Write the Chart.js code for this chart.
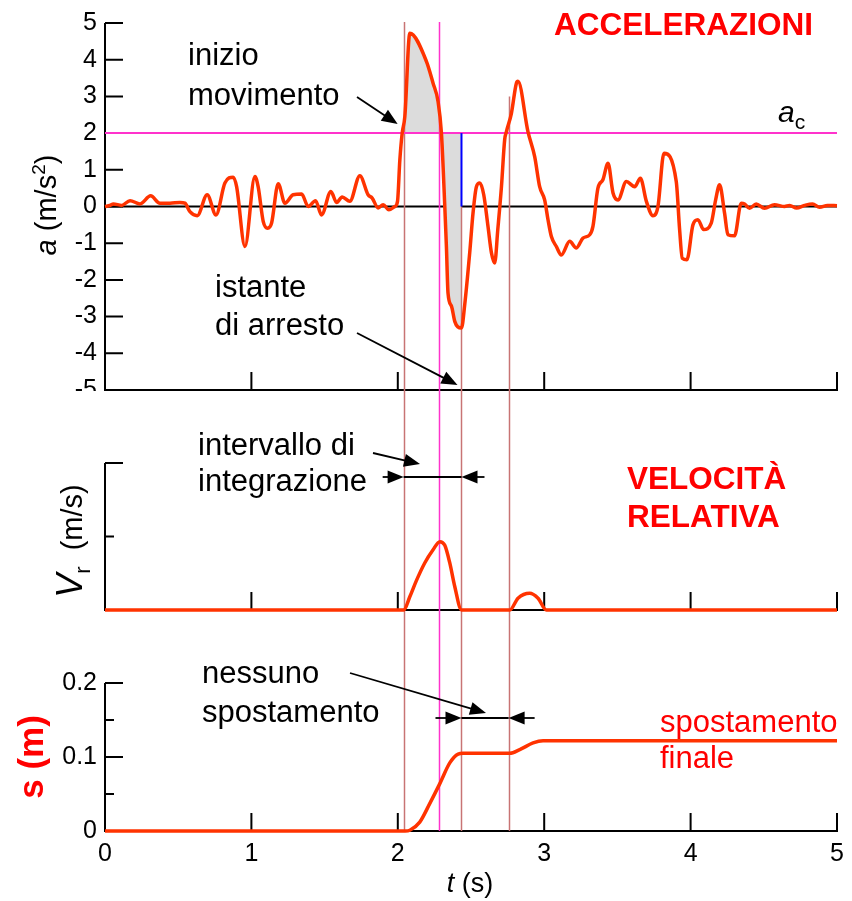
<!DOCTYPE html>
<html><head><meta charset="utf-8">
<script src="https://cdn.jsdelivr.net/npm/chart.js@4.4.1/dist/chart.umd.min.js"></script>
<style>
html,body{margin:0;padding:0;background:#fff;}
#wrap{position:relative;width:852px;height:901px;overflow:hidden;background:#fff;}
canvas{position:absolute;left:0;}
</style></head><body>
<div id="wrap">
<canvas id="cA" width="852" height="391" style="top:0px"></canvas>
<canvas id="cB" width="852" height="249" style="top:391px"></canvas>
<canvas id="cC" width="852" height="261" style="top:640px"></canvas>
</div>
<script>
// ---------- DATA ----------
const accTime = [0.000,0.034,0.057,0.114,0.171,0.239,0.312,0.375,0.444,0.512,0.546,0.580,0.630,0.698,0.758,0.819,0.876,0.899,0.956,1.024,1.046,1.081,1.111,1.138,1.183,1.229,1.285,1.343,1.388,1.438,1.479,1.543,1.582,1.620,1.672,1.741,1.797,1.825,1.866,1.900,1.939,1.980,1.998,2.014,2.030,2.048,2.082,2.196,2.241,2.275,2.298,2.321,2.332,2.343,2.367,2.389,2.410,2.435,2.457,2.491,2.514,2.537,2.560,2.587,2.616,2.640,2.662,2.683,2.708,2.730,2.742,2.776,2.810,2.821,2.889,2.935,2.969,3.003,3.026,3.049,3.083,3.117,3.174,3.220,3.265,3.311,3.333,3.367,3.401,3.436,3.470,3.504,3.561,3.618,3.657,3.698,3.743,3.777,3.818,3.902,3.925,3.943,3.975,4.016,4.050,4.089,4.141,4.171,4.198,4.232,4.255,4.300,4.346,4.369,4.403,4.448,4.505,4.573,4.642,4.676,4.724,4.778,4.833,4.881,4.935,5.000];
const accValues = [0.00,0.03,0.07,0.03,0.16,0.07,0.29,0.09,0.09,0.11,0.09,-0.14,-0.25,0.32,-0.23,0.64,0.80,0.54,-1.09,0.82,0.54,-0.41,-0.59,-0.45,0.62,0.09,0.32,0.34,0.00,0.16,-0.23,0.41,0.11,0.26,0.14,0.84,0.32,0.23,-0.04,0.05,-0.09,0.00,0.14,1.27,2.00,2.45,4.72,3.95,3.36,2.86,2.00,0.00,-1.09,-2.36,-2.72,-3.13,-3.28,-3.31,-2.68,-1.27,-0.17,0.54,0.64,0.32,-0.54,-1.27,-1.54,-0.63,0.54,1.82,2.04,2.54,3.36,3.41,2.04,1.36,0.54,0.18,-0.36,-0.82,-1.09,-1.32,-0.95,-1.13,-0.86,-0.77,-0.54,0.50,0.73,1.18,0.37,0.18,0.68,0.54,0.77,0.14,-0.25,0.00,1.45,0.68,-0.63,-1.41,-1.45,-0.50,-0.36,-0.63,-0.45,0.18,0.59,-0.18,-0.77,-0.80,0.09,0.07,-0.05,0.07,-0.05,0.05,0.00,0.03,-0.04,0.03,0.07,-0.02,0.03,0.02];

const velTime   = [0, 2.04, 2.082, 2.127, 2.184, 2.241, 2.287, 2.321, 2.355, 2.389, 2.435, 2.765, 2.821, 2.901, 2.958, 3.015, 5];
const velValues = [0, 0,    0.09,  0.20,  0.32,  0.41,  0.465, 0.44,  0.32,  0.16,  0,     0,     0.08,  0.114, 0.08,  0,     0];

const dispTime   = [0, 2.05, 2.082, 2.150, 2.218, 2.287, 2.355, 2.412, 2.446, 2.765, 2.833, 2.924, 2.992, 5];
const dispValues = [0, 0,    0.001, 0.012, 0.037, 0.064, 0.092, 0.104, 0.105, 0.105, 0.110, 0.119, 0.122, 0.122];

const timeTicks = [0, 1, 2, 3, 4, 5];
const accTicks = [-5, -4, -3, -2, -1, 0, 1, 2, 3, 4, 5];
const velMajorTicks = [1];
const velMinorTicks = [0.5];
const dispTicks = [0, 0.1, 0.2];
const dispMinorTicks = [0.05, 0.15];
const accThreshold = 2;                         // a_c
const eventTimes = [2.04, 2.28, 2.435, 2.757];  // inizio, a<a_c, arresto, nuovo superamento
const eventTopsAcc = [5, 5, 0, 3];              // where each line starts in the top panel

// ---------- HELPERS ----------
const FONT = '"Liberation Sans", Arial, Helvetica, sans-serif';
const RED = '#ff3300';
const BROWN = '#c87474';
const MAGENTA = '#ff33cc';
const TICK_SIZE = 25;
function fnt(size, style) { return (style ? style + ' ' : '') + size + 'px ' + FONT; }
function pts(xs, ys) { return xs.map((x, i) => ({x: x, y: ys[i]})); }
function px(c, v) { return c.scales.x.getPixelForValue(v); }
function py(c, v) { return c.scales.y.getPixelForValue(v); }

function drawRuns(ctx, runs, x, y, align, rotate) {
  ctx.save();
  ctx.translate(x, y);
  if (rotate) ctx.rotate(-Math.PI / 2);
  let total = 0;
  runs.forEach(r => { ctx.font = r.font; r.w = ctx.measureText(r.t).width; total += r.w; });
  let cx = align === 'center' ? -total / 2 : (align === 'right' ? -total : 0);
  ctx.textBaseline = 'alphabetic'; ctx.textAlign = 'left';
  runs.forEach(r => { ctx.font = r.font; ctx.fillStyle = r.color || '#000'; ctx.fillText(r.t, cx, r.dy || 0); cx += r.w; });
  ctx.restore();
}
function text(ctx, s, x, y, font, color) {
  ctx.save(); ctx.font = font; ctx.fillStyle = color || '#000'; ctx.textAlign = 'left'; ctx.textBaseline = 'alphabetic';
  ctx.fillText(s, x, y); ctx.restore();
}
function arrow(ctx, x1, y1, x2, y2) {
  const head = 16, hw = 6.5;
  const ang = Math.atan2(y2 - y1, x2 - x1), c = Math.cos(ang), s = Math.sin(ang);
  ctx.save(); ctx.strokeStyle = '#000'; ctx.fillStyle = '#000'; ctx.lineWidth = 1.8;
  ctx.beginPath(); ctx.moveTo(x1, y1); ctx.lineTo(x2 - c * head * 0.8, y2 - s * head * 0.8); ctx.stroke();
  ctx.beginPath(); ctx.moveTo(x2, y2);
  ctx.lineTo(x2 - c * head - s * hw, y2 - s * head + c * hw);
  ctx.lineTo(x2 - c * head + s * hw, y2 - s * head - c * hw);
  ctx.closePath(); ctx.fill(); ctx.restore();
}
function hline(ctx, x1, x2, y) {
  ctx.save(); ctx.strokeStyle = '#000'; ctx.lineWidth = 1.8;
  ctx.beginPath(); ctx.moveTo(x1, y); ctx.lineTo(x2, y); ctx.stroke(); ctx.restore();
}
function drawAxes(c, yMajor, yMinor) {
  const ctx = c.ctx, a = c.chartArea;
  ctx.save(); ctx.strokeStyle = '#000'; ctx.lineWidth = 2;
  ctx.beginPath();
  ctx.moveTo(a.left, a.top); ctx.lineTo(a.left, a.bottom + 1);
  ctx.moveTo(a.left - 1, a.bottom); ctx.lineTo(a.right + 1, a.bottom);
  yMajor.forEach(v => { const y = py(c, v); ctx.moveTo(a.left, y); ctx.lineTo(a.left + 18, y); });
  yMinor.forEach(v => { const y = py(c, v); ctx.moveTo(a.left, y); ctx.lineTo(a.left + 9, y); });
  timeTicks.filter(t => t > 0).forEach(t => { const x = px(c, t); ctx.moveTo(x, a.bottom); ctx.lineTo(x, a.bottom - 18); });
  ctx.stroke(); ctx.restore();
}
function drawEventLines(c, tops, bottom) {
  const ctx = c.ctx;
  ctx.save(); ctx.lineWidth = 1.5;
  eventTimes.forEach((t, i) => {
    const x = Math.round(px(c, t)) + 0.5;
    ctx.strokeStyle = i === 1 ? MAGENTA : BROWN;
    ctx.beginPath(); ctx.moveTo(x, tops[i]); ctx.lineTo(x, bottom); ctx.stroke();
  });
  ctx.restore();
}
function zeroPad(s) { s.paddingTop = 0; s.paddingBottom = 0; s.paddingLeft = 0; s.paddingRight = 0; }

function baseOptions(cfg) {
  return {
    responsive: false, animation: false, devicePixelRatio: 1,
    layout: {padding: {left: 0, right: 15, top: cfg.padTop, bottom: cfg.padBottom}},
    plugins: {legend: {display: false}, tooltip: {enabled: false}},
    elements: {point: {radius: 0}, line: {cubicInterpolationMode: 'monotone', borderCapStyle: 'butt', borderJoinStyle: 'round'}},
    scales: {
      x: {
        type: 'linear', min: 0, max: 5, display: cfg.showX,
        afterBuildTicks: s => { s.ticks = timeTicks.map(v => ({value: v})); },
        afterFit: s => { if (cfg.xHeight) s.height = cfg.xHeight; zeroPad(s); },
        grid: {display: false, drawTicks: false}, border: {display: false},
        ticks: {padding: 8, color: '#000', font: {family: FONT, size: TICK_SIZE}, autoSkip: false, maxRotation: 0}
      },
      y: {
        type: 'linear', min: cfg.yMin, max: cfg.yMax,
        afterBuildTicks: s => { s.ticks = cfg.yTicks.map(v => ({value: v})); },
        afterFit: s => { s.width = 105; zeroPad(s); },
        grid: {display: false, drawTicks: false}, border: {display: false},
        ticks: {display: cfg.showYLabels, padding: 8, color: '#000', font: {family: FONT, size: TICK_SIZE}, autoSkip: false}
      }
    }
  };
}

// ---------- CHART A : accelerazioni ----------
const fillPts = pts(accTime, accValues).filter(p => p.x >= eventTimes[0] - 0.011 && p.x <= eventTimes[2]);
new Chart(document.getElementById('cA'), {
  type: 'line',
  data: {datasets: [
    {label: 'a', data: pts(accTime, accValues), borderColor: RED, borderWidth: 3.5, order: 0, clip: false},
    {label: 'stop', data: [{x: eventTimes[2], y: accThreshold}, {x: eventTimes[2], y: 0}], borderColor: '#0000ff', borderWidth: 2, order: 1, clip: false},
    {label: 'ac', data: [{x: 0, y: accThreshold}, {x: 5, y: accThreshold}], borderColor: MAGENTA, borderWidth: 2, order: 2, clip: false},
    {label: 'fill', data: fillPts, borderWidth: 0, borderColor: 'rgba(0,0,0,0)', backgroundColor: '#dcdcdc', fill: {value: accThreshold}, order: 3, clip: false},
    {label: 'zero', data: [{x: 0, y: 0}, {x: 5, y: 0}], borderColor: '#000', borderWidth: 2, order: 4, clip: false}
  ]},
  options: baseOptions({padTop: 23, padBottom: 1, showX: false, yMin: -5, yMax: 5, yTicks: accTicks, showYLabels: true}),
  plugins: [{
    id: 'decoA',
    beforeDatasetsDraw(c) { drawAxes(c, accTicks, []); },
    afterDatasetDraw(c, args) {
      if (c.data.datasets[args.index].label === 'fill') {
        drawEventLines(c, eventTopsAcc.map(v => py(c, v) - (v === 5 ? 1 : 0)), c.height);
      }
    },
    afterDraw(c) {
      const ctx = c.ctx, a = c.chartArea;
      text(ctx, 'ACCELERAZIONI', 554, 35, fnt(31.5, 'bold'), '#ff0000');
      text(ctx, 'inizio', 188, 65, fnt(31));
      text(ctx, 'movimento', 188, 105, fnt(31));
      arrow(ctx, 357, 97, px(c, eventTimes[0]) - 6, py(c, accThreshold) - 9);
      text(ctx, 'istante', 215, 297, fnt(31));
      text(ctx, 'di arresto', 215, 335, fnt(31));
      arrow(ctx, 357, 333, px(c, eventTimes[2]) - 4, a.bottom - 5);
      drawRuns(ctx, [{t: 'a', font: fnt(30, 'italic')}, {t: 'c', font: fnt(21), dy: 7}], 778, 122, 'left', false);
      drawRuns(ctx, [
        {t: 'a', font: fnt(29, 'italic')},
        {t: ' (m/s', font: fnt(29)},
        {t: '2', font: fnt(19), dy: -11},
        {t: ')', font: fnt(29)}
      ], 56, 205, 'center', true);
    }
  }]
});

// ---------- CHART B : velocita relativa ----------
new Chart(document.getElementById('cB'), {
  type: 'line',
  data: {datasets: [
    {label: 'v', data: pts(velTime, velValues), borderColor: RED, borderWidth: 3.5, clip: false}
  ]},
  options: baseOptions({padTop: 72, padBottom: 30, showX: false, yMin: 0, yMax: 1, yTicks: [0, 0.5, 1], showYLabels: false}),
  plugins: [{
    id: 'decoB',
    beforeDatasetsDraw(c) {
      drawAxes(c, velMajorTicks, velMinorTicks);
      drawEventLines(c, [0, 0, 0, 0], c.height);
    },
    afterDraw(c) {
      const ctx = c.ctx;
      text(ctx, 'intervallo di', 198, 64, fnt(31));
      text(ctx, 'integrazione', 198, 100, fnt(31));
      arrow(ctx, 373, 62, 420, 73);
      const y = 86, xs = px(c, eventTimes[0]), xe = px(c, eventTimes[2]);
      hline(ctx, xs, xe, y);
      arrow(ctx, xs - 21, y, xs, y);
      arrow(ctx, xe + 23, y, xe, y);
      text(ctx, 'VELOCITÀ', 627, 98, fnt(31.5, 'bold'), '#ff0000');
      text(ctx, 'RELATIVA', 627, 136, fnt(31.5, 'bold'), '#ff0000');
      drawRuns(ctx, [
        {t: 'V', font: fnt(36, 'italic')},
        {t: 'r', font: fnt(22), dy: 8},
        {t: '  (m/s)', font: fnt(29)}
      ], 82, 150, 'center', true);
    }
  }]
});

// ---------- CHART C : spostamento ----------
new Chart(document.getElementById('cC'), {
  type: 'line',
  data: {datasets: [
    {label: 's', data: pts(dispTime, dispValues), borderColor: RED, borderWidth: 3.5, clip: false}
  ]},
  options: baseOptions({padTop: 43, padBottom: 0, showX: true, xHeight: 70, yMin: 0, yMax: 0.2, yTicks: dispTicks, showYLabels: true}),
  plugins: [{
    id: 'decoC',
    beforeDatasetsDraw(c) {
      drawAxes(c, dispTicks, dispMinorTicks);
      drawEventLines(c, [0, 0, 0, 0], c.chartArea.bottom);
    },
    afterDraw(c) {
      const ctx = c.ctx;
      text(ctx, 'nessuno', 202, 43, fnt(31));
      text(ctx, 'spostamento', 202, 82, fnt(31));
      arrow(ctx, 350, 33, 486, 73);
      const y = 78, xs = px(c, eventTimes[2]), xe = px(c, eventTimes[3]);
      hline(ctx, xs, xe, y);
      arrow(ctx, xs - 26, y, xs, y);
      arrow(ctx, xe + 26, y, xe, y);
      text(ctx, 'spostamento', 660, 92, fnt(31), '#ff0000');
      text(ctx, 'finale', 660, 128, fnt(31), '#ff0000');
      drawRuns(ctx, [{t: 't', font: fnt(27, 'italic')}, {t: ' (s)', font: fnt(27)}], 470, 252, 'center', false);
      drawRuns(ctx, [{t: 's (m)', font: fnt(35, 'bold'), color: '#ff0000'}], 43, 117, 'center', true);
    }
  }]
});
</script>
</body></html>
